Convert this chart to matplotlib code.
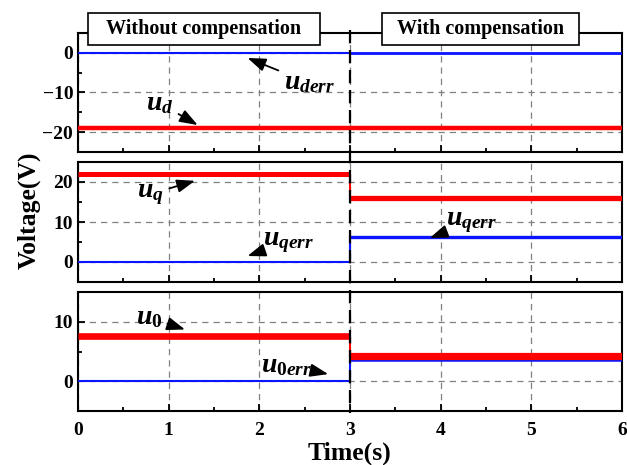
"""Dq0 voltage with and without compensation, three stacked panels."""

import matplotlib

matplotlib.use("Agg")

import matplotlib.pyplot as plt
import matplotlib.transforms as mtransforms
from matplotlib.lines import Line2D
from matplotlib.patches import Rectangle
from matplotlib.ticker import MultipleLocator

plt.rcParams["font.family"] = "Liberation Serif"
plt.rcParams["font.weight"] = "bold"
plt.rcParams["mathtext.fontset"] = "custom"
plt.rcParams["mathtext.it"] = "Liberation Serif:italic:bold"
plt.rcParams["mathtext.rm"] = "Liberation Serif:bold"
plt.rcParams["mathtext.bf"] = "Liberation Serif:bold"

# step signals: value before and after compensation is switched on at t = 3 s
t_switch = 3.0
t_end = 6.0
t = [0.0, t_switch, t_switch, t_end]

u_d = [-18.9, -18.9, -18.9, -18.9]
u_derr = [0.0, 0.0, 0.0, 0.0]
u_q = [21.9, 21.9, 16.0, 16.0]
u_qerr = [0.0, 0.0, 6.2, 6.2]
u_0 = [7.6, 7.6, 4.2, 4.2]
u_0err = [0.0, 0.0, 3.5, 3.5]

ylims = [(-25, 5), (-5, 25), (-5, 15)]
yticks = [[-20, -10, 0], [0, 10, 20], [0, 10]]
xticks = [0, 1, 2, 3, 4, 5, 6]

RED = "#ff0000"
BLUE = "#0a14ff"

fig = plt.figure(figsize=(6.27, 4.65), dpi=100)
W, H = 627.0, 465.0


def px_axes(left, top, right, bottom):
    return fig.add_axes([left / W, 1 - bottom / H, (right - left) / W, (bottom - top) / H])


def step(ax, y, color, lw_before, lw_after, lw_jump=1.5, z=3):
    """Draw a step signal: thick flat parts, thin jump at the switching instant."""
    ax.plot(t[0:2], y[0:2], color=color, lw=lw_before, solid_capstyle="butt", zorder=z)
    ax.plot(t[2:4], y[2:4], color=color, lw=lw_after, solid_capstyle="butt", zorder=z)
    ax.plot(t[1:3], y[1:3], color=color, lw=lw_jump, solid_capstyle="butt", zorder=z)


ax1 = px_axes(78, 33, 622, 152)
ax2 = px_axes(78, 162, 622, 282)
ax3 = px_axes(78, 292, 622, 411)
axes = [ax1, ax2, ax3]

step(ax1, u_derr, BLUE, 1.5, 2.0)
step(ax1, u_d, RED, 3.2, 3.2)
step(ax2, u_q, RED, 3.6, 3.8)
step(ax2, u_qerr, BLUE, 1.5, 2.4)
step(ax3, u_0err, BLUE, 1.5, 1.8)
step(ax3, u_0, RED, 4.8, 5.2)

for ax, yl, yt in zip(axes, ylims, yticks):
    ax.set_xlim(0, t_end)
    ax.set_ylim(*yl)
    ax.set_xticks(xticks)
    ax.set_yticks(yt)
    ax.xaxis.set_minor_locator(MultipleLocator(0.5))
    ax.yaxis.set_minor_locator(MultipleLocator(5))
    ax.tick_params(which="both", direction="in", width=1.3, labelsize=14)
    ax.tick_params(which="major", length=5)
    ax.tick_params(which="minor", length=3)
    ax.tick_params(axis="x", pad=8)
    ax.grid(True, which="major", color="#808080", ls=(0, (5, 4)), lw=0.9)
    for sp in ax.spines.values():
        sp.set_linewidth(1.5)
    if ax is not ax3:
        ax.tick_params(labelbottom=False)

ax3.set_xlabel("Time(s)", fontsize=18.5, fontweight="bold", labelpad=2)
fig.text(29 / W, 1 - 210 / H, "Voltage(V)", rotation=90, fontsize=18.5,
         fontweight="bold", ha="center", va="center")

# dashed switching line across all panels
trans = mtransforms.blended_transform_factory(ax3.transData, fig.transFigure)
fig.add_artist(Line2D([t_switch, t_switch], [1 - 30 / H, 1 - 413 / H], transform=trans,
                      color="black", lw=1.6, ls=(0, (6, 3)), zorder=10))

# header boxes
for (x0, x1), label in [((88, 320), "Without compensation"), ((382, 579), "With compensation")]:
    fig.add_artist(Rectangle((x0 / W, 1 - 45 / H), (x1 - x0) / W, 32 / H, transform=fig.transFigure,
                             facecolor="white", edgecolor="black", lw=1.2, zorder=11))
    fig.text((x0 + x1) / 2 / W, 1 - 29 / H, label, fontsize=14.5, fontweight="bold",
             ha="center", va="center", zorder=12)

arrow = dict(arrowstyle="-|>,head_length=0.55,head_width=0.2", color="black", lw=1.3,
             shrinkA=2, shrinkB=0)
lab = dict(fontsize=20, ha="center", va="center")

ax1.annotate(r"$u_{derr}$", xy=(1.87, -1.3), xytext=(2.55, -7.6), arrowprops=arrow, **lab)
ax1.annotate(r"$u_d$", xy=(1.32, -18.2), xytext=(0.9, -12.7), arrowprops=arrow, **lab)
ax2.annotate(r"$u_q$", xy=(1.29, 20.3), xytext=(0.8, 17.0), arrowprops=arrow, **lab)
ax2.annotate(r"$u_{qerr}$", xy=(1.87, 1.5), xytext=(2.32, 5.0), arrowprops=arrow, **lab)
ax2.annotate(r"$u_{qerr}$", xy=(3.88, 6.0), xytext=(4.34, 10.0), arrowprops=arrow, **lab)
ax3.annotate(r"$u_0$", xy=(1.18, 8.7), xytext=(0.78, 10.7), arrowprops=arrow, **lab)
ax3.annotate(r"$u_{0err}$", xy=(2.76, 1.2), xytext=(2.3, 2.7), arrowprops=arrow, **lab)

fig.savefig("out.png", dpi=100)
